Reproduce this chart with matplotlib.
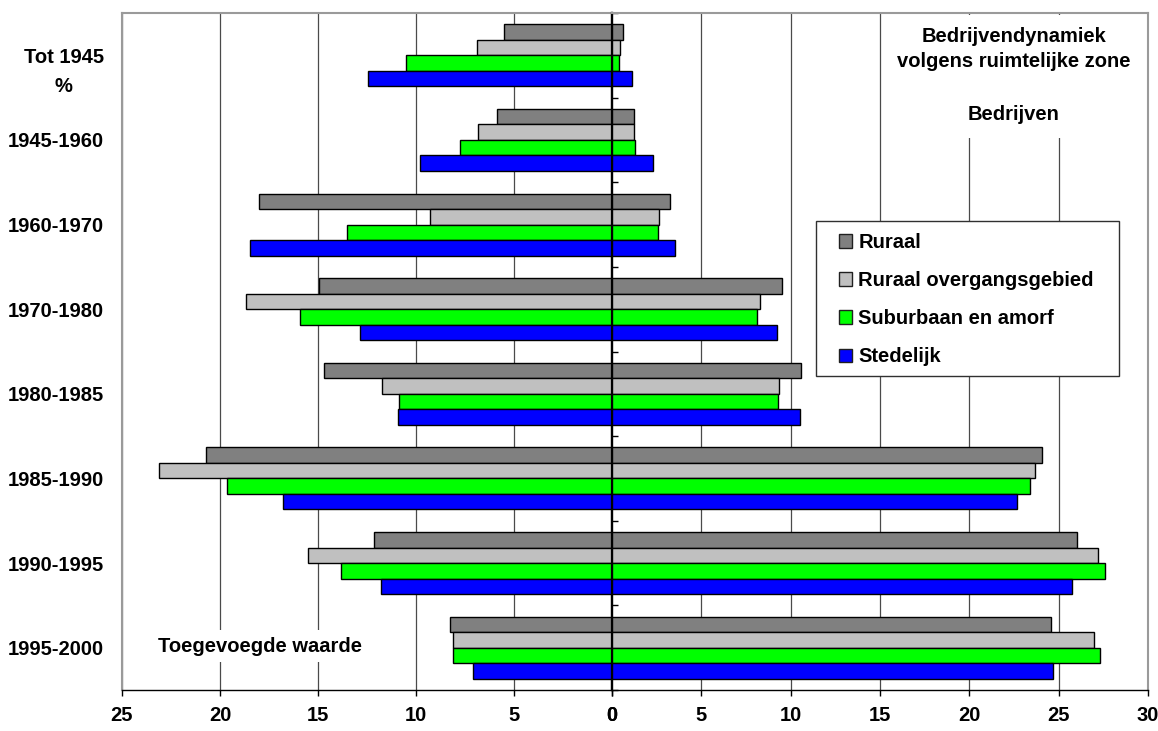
import matplotlib
matplotlib.use("Agg")
import matplotlib.pyplot as plt
from matplotlib.patches import Rectangle, Patch
import numpy as np

plt.rcParams['font.family'] = ['Liberation Sans', 'DejaVu Sans']
plt.rcParams['font.weight'] = 'bold'

# --- data -------------------------------------------------------------
categories = ["Tot 1945", "1945-1960", "1960-1970", "1970-1980",
              "1980-1985", "1985-1990", "1990-1995", "1995-2000"]
series_names = ["Ruraal", "Ruraal overgangsgebied",
                "Suburbaan en amorf", "Stedelijk"]

# Toegevoegde waarde (%), drawn to the left of zero
tw_ruraal = [5.5, 5.85, 18.0, 14.95, 14.7, 20.7, 12.15, 8.25]
tw_overgang = [6.9, 6.85, 9.3, 18.65, 11.75, 23.1, 15.5, 8.1]
tw_suburbaan = [10.5, 7.75, 13.5, 15.9, 10.85, 19.65, 13.85, 8.1]
tw_stedelijk = [12.45, 9.8, 18.45, 12.85, 10.9, 16.8, 11.8, 7.1]

# Bedrijven (%), drawn to the right of zero
bed_ruraal = [0.6, 1.25, 3.25, 9.5, 10.6, 24.05, 26.05, 24.55]
bed_overgang = [0.45, 1.25, 2.65, 8.3, 9.35, 23.7, 27.2, 26.95]
bed_suburbaan = [0.4, 1.3, 2.55, 8.1, 9.3, 23.4, 27.6, 27.3]
bed_stedelijk = [1.1, 2.3, 3.55, 9.25, 10.55, 22.65, 25.75, 24.7]

left_ticks = [0, 5, 10, 15, 20, 25]
right_ticks = [0, 5, 10, 15, 20, 25, 30]

colors = ["#808080", "#c0c0c0", "#00ff00", "#0000ff"]

# --- layout -----------------------------------------------------------
W, H = 1158, 731
fig = plt.figure(figsize=(W / 100, H / 100), dpi=100)
fig.patch.set_facecolor("white")

x0, xz, x1 = 122, 612, 1148
ytop, ybot = 13, 690
fb = 1 - ybot / H
fh = (ybot - ytop) / H
ax_l = fig.add_axes([x0 / W, fb, (xz - x0) / W, fh])
ax_r = fig.add_axes([xz / W, fb, (x1 - xz) / W, fh])

FS = 14.5
n = len(categories)
centers = np.arange(n) + 0.5
bh = 0.183
offsets = np.array([-1.5, -0.5, 0.5, 1.5]) * bh

left_data = [tw_ruraal, tw_overgang, tw_suburbaan, tw_stedelijk]
right_data = [bed_ruraal, bed_overgang, bed_suburbaan, bed_stedelijk]

for vals, off, c in zip(left_data, offsets, colors):
    ax_l.barh(centers + off, vals, height=bh, color=c,
              edgecolor="black", linewidth=1.0, zorder=3)
for vals, off, c in zip(right_data, offsets, colors):
    ax_r.barh(centers + off, vals, height=bh, color=c,
              edgecolor="black", linewidth=1.0, zorder=3)

ax_l.set_ylim(n, 0)
ax_r.set_ylim(n, 0)
ax_l.set_xlim(25, 0)
ax_r.set_xlim(0, 30)

grid_kw = dict(color="#4a4a4a", linewidth=0.9)
for ax, ticks in ((ax_l, left_ticks), (ax_r, right_ticks)):
    ax.set_xticks(ticks)
    ax.set_xticklabels([str(t) for t in ticks], fontsize=FS, fontweight="bold")
    ax.xaxis.grid(True, **grid_kw)
    ax.set_axisbelow(True)
    ax.tick_params(axis="x", direction="out", length=4.5, width=1.0,
                   color="black", pad=7)
    ax.spines["top"].set_color("#9a9a9a")
    ax.spines["top"].set_linewidth(1.5)
    ax.spines["bottom"].set_color("black")
    ax.spines["bottom"].set_linewidth(1.0)

# left part: category labels and outer border
ax_l.set_yticks(centers)
ax_l.set_yticklabels(categories, fontsize=FS, fontweight="bold")
ax_l.tick_params(axis="y", length=0, pad=13)
ax_l.spines["left"].set_color("#9a9a9a")
ax_l.spines["left"].set_linewidth(1.5)
ax_l.spines["right"].set_color("black")
ax_l.spines["right"].set_linewidth(1.6)

# right part: zero line with small category separators
ax_r.spines["left"].set_color("black")
ax_r.spines["left"].set_linewidth(1.6)
ax_r.spines["right"].set_color("#9a9a9a")
ax_r.spines["right"].set_linewidth(1.5)
ax_r.set_yticks(np.arange(n + 1))
ax_r.tick_params(axis="y", which="both", direction="in", length=4.5,
                 width=1.0, color="black", labelleft=False, left=True)

# unit label under the first category
fig.text(63 / W, 1 - 87 / H, "%", ha="center", va="center",
         fontsize=FS, fontweight="bold")

# side captions
fig.text(260 / W, 1 - 646 / H, "Toegevoegde waarde", ha="center", va="center",
         fontsize=FS, fontweight="bold",
         bbox=dict(facecolor="white", edgecolor="none", pad=5))

fig.add_artist(Rectangle((887 / W, 1 - 138 / H), (1146 - 887) / W, (138 - 15) / H,
                         transform=fig.transFigure, facecolor="white",
                         edgecolor="none", zorder=2))
fig.text(1014 / W, 1 - 49 / H, "Bedrijvendynamiek\nvolgens ruimtelijke zone",
         ha="center", va="center", fontsize=FS, fontweight="bold",
         linespacing=1.35, zorder=3)
fig.text(1014 / W, 1 - 114 / H, "Bedrijven", ha="center", va="center",
         fontsize=FS, fontweight="bold", zorder=3)

# legend with its own frame
fig.add_artist(Rectangle((816 / W, 1 - 376 / H), (1119 - 816) / W, (376 - 221) / H,
                         transform=fig.transFigure, facecolor="white",
                         edgecolor="#303030", linewidth=1.0, zorder=4))
handles = [Patch(facecolor=c, edgecolor="#202020", linewidth=1.0) for c in colors]
fig.legend(handles, series_names, loc="upper left",
           bbox_to_anchor=(839 / W, 1 - 233 / H), bbox_transform=fig.transFigure,
           frameon=False, borderpad=0, borderaxespad=0,
           handlelength=0.65, handleheight=0.65, handletextpad=0.3,
           labelspacing=0.95, prop=dict(size=FS, weight="bold"))

fig.savefig("out.png", dpi=100, facecolor="white")
